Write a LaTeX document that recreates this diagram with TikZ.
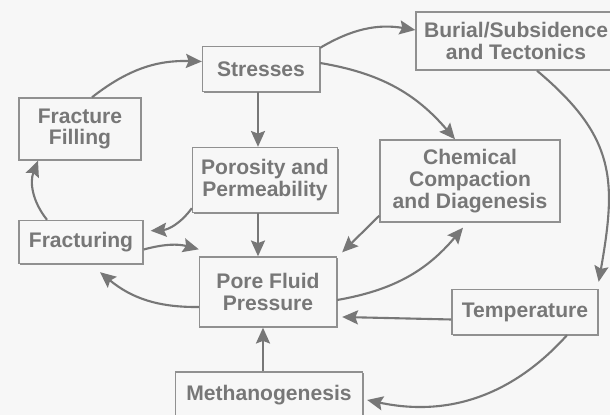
\documentclass[tikz,border=0pt]{standalone}
\usepackage{fontspec}
\setmainfont{Liberation Sans}
\usepackage{tikz}
\usetikzlibrary{arrows.meta,shadows}
\definecolor{inkgray}{HTML}{777777}
\definecolor{boxgray}{HTML}{909090}
\definecolor{paper}{HTML}{F7F7F7}

\begin{document}
\begin{tikzpicture}[x=0.02cm,y=0.02cm,
  box/.style={draw=boxgray,fill=paper,line width=0.8pt,inner sep=0pt,align=center,
    drop shadow={shadow xshift=0.7pt,shadow yshift=-0.7pt,fill=boxgray,opacity=1},
    text=inkgray,font=\fontsize{12}{12.5}\selectfont\bfseries},
  link/.style={draw=inkgray,line width=1.2pt,
    -{Stealth[length=9pt,width=8pt,inset=1.5pt]}}]
\fill[paper] (0,0) rectangle (610,-415);
\useasboundingbox (0,0) rectangle (610,-415);
\node[box,minimum width=2.34cm,minimum height=0.9cm] (stresses) at (261,-69) {Stresses};
\node[box,minimum width=4cm,minimum height=1.16cm] (burial) at (516,-41) {Burial/Subsidence\\and Tectonics};
\node[box,minimum width=2.44cm,minimum height=1.24cm] (filling) at (80,-129) {Fracture\\Filling};
\node[box,minimum width=2.9cm,minimum height=1.3cm] (porosity) at (265,-180) {Porosity and\\Permeability};
\node[box,minimum width=3.6cm,minimum height=1.64cm] (chemical) at (470,-181) {Chemical\\Compaction\\and Diagenesis};
\node[box,minimum width=2.48cm,minimum height=0.86cm] (fracturing) at (81,-242) {Fracturing};
\node[box,minimum width=2.74cm,minimum height=1.4cm] (pore) at (268,-292) {Pore Fluid\\Pressure};
\node[box,minimum width=2.92cm,minimum height=0.9cm] (temperature) at (525,-312) {Temperature};
\node[box,minimum width=3.74cm,minimum height=0.92cm] (methano) at (269,-395) {Methanogenesis};

\draw[link] ([xshift=0.24cm]filling.north) to[bend left=20] ([yshift=0.15cm]stresses.west);
\draw[link] ([yshift=-0.04cm]stresses.north east) to[bend left=20] ([yshift=0.22cm]burial.west);
\draw[link] ([yshift=0.12cm]stresses.east) to[bend left=20] ([xshift=-0.3cm]chemical.north);
\draw[link] ([xshift=-0.06cm]stresses.south) -- ([xshift=-0.06cm]stresses.south |- porosity.north);
\draw[link] ([xshift=-0.06cm]stresses.south |- porosity.south) -- ([xshift=-0.06cm]stresses.south |- pore.north);
\draw[link] ([yshift=0.1cm]porosity.south west) to[bend left=25] ([xshift=0.14cm,yshift=-0.22cm]fracturing.north east);
\draw[link] ([yshift=-0.15cm]fracturing.east) to[bend left=15] ([yshift=0.14cm]pore.north west);
\draw[link] ([yshift=-0.3cm]pore.west) to[bend left=20] ([xshift=0.38cm,yshift=-0.16cm]fracturing.south);
\draw[link] ([xshift=-0.68cm]fracturing.north) to[bend left=30] ([xshift=-0.84cm]filling.south);
\draw[link] ([yshift=0.14cm]chemical.south west) -- ([xshift=0.1cm,yshift=0.08cm]pore.north east);
\draw[link] ([yshift=-0.16cm]pore.east) to[bend right=20] ([xshift=-0.14cm,yshift=-0.1cm]chemical.south);
\draw[link] ([xshift=0.42cm]burial.south) to[out=-40,in=80,looseness=1.2] ([yshift=0.14cm]temperature.north east);
\draw[link] ([yshift=-0.15cm]temperature.west) -- ([xshift=0.1cm,yshift=-0.5cm]pore.east);
\draw[link] ([xshift=0.84cm]temperature.south) to[bend left=30] ([xshift=0.08cm,yshift=-0.1cm]methano.east);
\draw[link] ([xshift=-0.12cm]methano.north) -- ([xshift=-0.12cm]methano.north |- pore.south);
\end{tikzpicture}
\end{document}
